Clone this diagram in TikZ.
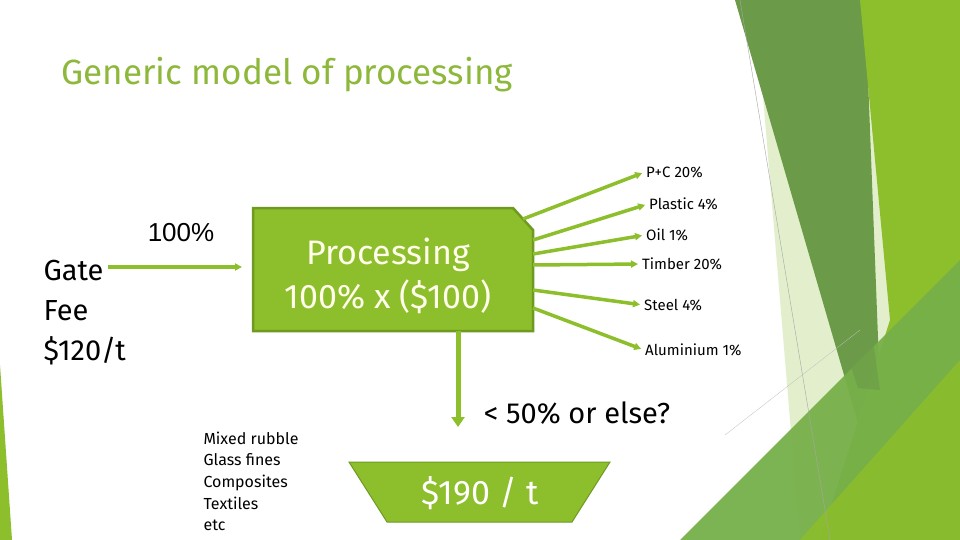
\documentclass[tikz,border=0pt]{standalone}
\usepackage{fontspec}
\setmainfont{Fira Sans}
\newfontfamily\arialf{Liberation Sans}
\usetikzlibrary{arrows.meta}
\definecolor{lg}{HTML}{8DBE2B}
\definecolor{lgd}{HTML}{6E9A22}
\definecolor{dg}{HTML}{6B9A48}
\definecolor{mg}{HTML}{77B04A}
\definecolor{pale}{HTML}{DCEBC0}
\definecolor{ttl}{HTML}{8DB83B}
\tikzset{
  outarrow/.style={-{Triangle[length=7pt,width=7pt]}, line width=3.5pt, draw=lg, shorten >=3pt},
  lab/.style={anchor=west, inner sep=1pt, font=\fontsize{15}{18}\selectfont},
}
\begin{document}
\begin{tikzpicture}[x=1pt,y=-1pt]
\useasboundingbox (0,0) rectangle (960,540);
\fill[white] (0,0) rectangle (960,540);
% background shapes
\fill[pale,opacity=0.8] (760,60) -- (860,0) -- (960,540) -- (800,540) -- cycle;
\fill[dg] (735,0) -- (865,0) -- (880,390) -- (860,430) -- cycle;
\fill[lg] (860,0) -- (960,0) -- (960,540) -- (820,540) -- (890,320) -- cycle;
\fill[mg,opacity=0.95] (680,540) -- (960,260) -- (960,540) -- cycle;
\fill[lg,opacity=0.85] (800,540) -- (960,360) -- (960,540) -- cycle;
\fill[dg,opacity=0.6] (842,340) -- (870,320) -- (880,390) -- (858,388) -- cycle;
\draw[gray!70,line width=0.4pt] (740,0) -- (830,540);
\draw[gray!50,line width=0.3pt] (725,435) -- (860,330);
\fill[lg] (0,365) -- (12,540) -- (0,540) -- cycle;
% title
\node[anchor=west,text=ttl,font=\fontsize{35}{40}\selectfont] (title) at (58,75) {Generic model of processing};
% processing box
\draw[fill=lg,draw=lgd,line width=2.5pt] (253,208) -- (513,208) -- (533,230) -- (533,331) -- (253,331) -- cycle;
\node[text=white!92!yellow,align=center,font=\fontsize{34}{44}\selectfont] (proc) at (388,276) {Processing\\100\% x (\$100)};
\coordinate (e1) at (523,219); \coordinate (e2) at (533,240);
\coordinate (e3) at (533,254); \coordinate (e4) at (533,265);
\coordinate (e5) at (533,290); \coordinate (e6) at (533,308);
\node[lab] (l1) at (645,172) {P+C 20\%};
\node[lab] (l2) at (648,204) {Plastic 4\%};
\node[lab] (l3) at (645,235) {Oil 1\%};
\node[lab] (l4) at (641,264) {Timber 20\%};
\node[lab] (l5) at (643,305) {Steel 4\%};
\node[lab] (l6) at (644,350) {Aluminium 1\%};
\draw[outarrow] (e1) -- (l1.west);
\draw[outarrow] (e2) -- (l2.west);
\draw[outarrow] (e3) -- (l3.west);
\draw[outarrow] (e4) -- (l4.west);
\draw[outarrow] (e5) -- (l5.west);
\draw[outarrow] (e6) -- (l6.west);
% input
\coordinate (in) at (108,267);
\coordinate (inend) at (245,267);
\draw[outarrow,line width=4pt] (in) -- (inend);
\node[font=\arialf\fontsize{26}{30}\selectfont] (pct) at (181,233) {100\%};
\node[anchor=west,align=left,font=\fontsize{29}{40}\selectfont] (gate) at (40,313) {Gate\\Fee\\\$120/t};
% down
\coordinate (ds) at (458,331);
\node[font=\fontsize{29}{34}\selectfont] (fifty) at (577,413) {< 50\% or else?};
\coordinate (de) at (458,427);
\draw[-{Triangle[length=10pt,width=13pt]},line width=5pt,draw=lg] (ds) -- (de);
% trapezoid
\draw[fill=lg,draw=lgd,line width=1pt] (349,462) -- (610,462) -- (572,522) -- (387,522) -- cycle;
\node[text=white,font=\fontsize{34}{38}\selectfont] (price) at (480,493) {\$190 / t};
% list
\node[anchor=north west,align=left,font=\fontsize{16}{21.7}\selectfont] (list) at (200,428) {Mixed rubble\\Glass fines\\Composites\\Textiles\\etc};
\end{tikzpicture}
\end{document}
